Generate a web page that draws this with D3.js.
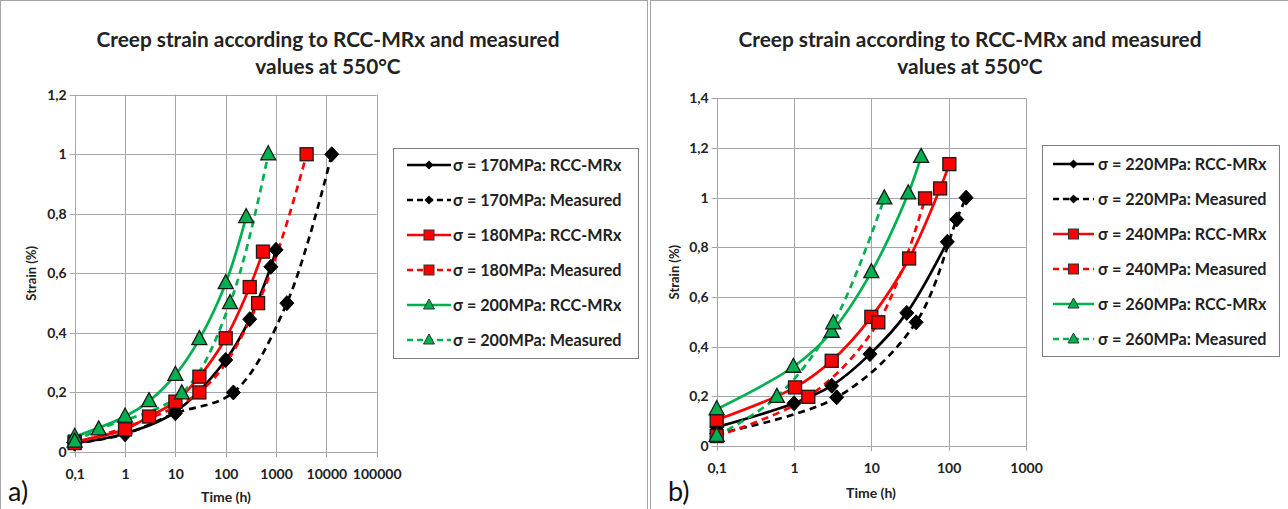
<!DOCTYPE html>
<html><head><meta charset="utf-8">
<script src="https://cdn.jsdelivr.net/npm/d3@7"></script>
<style>
body{margin:0;background:#fff;}
svg{display:block;font-family:Lato,"Open Sans",sans-serif;}
</style></head>
<body><svg id="c" width="1288" height="509"></svg>
<script>
// ---------- DATA (time in h, strain in %) ----------
const titleLines = ["Creep strain according to RCC-MRx and measured", "values at 550°C"];
const xTickValuesA = [0.1, 1, 10, 100, 1000, 10000, 100000];
const xTickLabelsA = ["0,1", "1", "10", "100", "1000", "10000", "100000"];
const yTickValuesA = [0, 0.2, 0.4, 0.6, 0.8, 1, 1.2];
const xTickValuesB = [0.1, 1, 10, 100, 1000];
const xTickLabelsB = ["0,1", "1", "10", "100", "1000"];
const yTickValuesB = [0, 0.2, 0.4, 0.6, 0.8, 1, 1.2, 1.4];

// Panel a)
const a170RccT = [0.1, 1, 10, 100, 300, 790, 1000];
const a170RccS = [0.03, 0.062, 0.135, 0.309, 0.446, 0.622, 0.679];
const a170MeasT = [0.1, 1, 10, 142, 1640, 12800];
const a170MeasS = [0.028, 0.06, 0.13, 0.2, 0.5, 1.0];
const a180RccT = [0.1, 1, 3, 10, 30, 100, 300, 550];
const a180RccS = [0.035, 0.076, 0.119, 0.169, 0.253, 0.382, 0.554, 0.673];
const a180MeasT = [0.1, 30, 440, 4050];
const a180MeasS = [0.03, 0.2, 0.5, 1.0];
const a200RccT = [0.1, 1, 3, 10, 30, 100, 255];
const a200RccS = [0.051, 0.119, 0.171, 0.259, 0.379, 0.567, 0.789];
const a200MeasT = [0.1, 0.3, 13.4, 122, 700];
const a200MeasS = [0.035, 0.076, 0.197, 0.5, 1.0];

// Panel b)
const b220RccT = [0.1, 1, 3.07, 9.6, 28.7, 96];
const b220RccS = [0.076, 0.172, 0.243, 0.37, 0.536, 0.822];
const b220MeasT = [0.1, 3.56, 37.9, 127, 168];
const b220MeasS = [0.05, 0.196, 0.498, 0.912, 1.0];
const b240RccT = [0.1, 1.03, 3.07, 10, 30.8, 77.5, 102];
const b240RccS = [0.105, 0.236, 0.343, 0.52, 0.755, 1.037, 1.135];
const b240MeasT = [0.1, 1.53, 12.3, 49.5];
const b240MeasS = [0.04, 0.198, 0.498, 0.997];
const b260RccT = [0.1, 0.98, 3.07, 10, 30, 44];
const b260RccS = [0.148, 0.319, 0.46, 0.7, 1.017, 1.164];
const b260MeasT = [0.1, 0.6, 3.22, 14.7];
const b260MeasS = [0.041, 0.198, 0.494, 0.997];

const seriesA = [
  {name:"σ = 170MPa: RCC-MRx", t:a170RccT, s:a170RccS, color:"#000000", dash:false, marker:"diamond"},
  {name:"σ = 170MPa: Measured", t:a170MeasT, s:a170MeasS, color:"#000000", dash:true, marker:"diamond"},
  {name:"σ = 180MPa: RCC-MRx", t:a180RccT, s:a180RccS, color:"#FF0000", dash:false, marker:"square"},
  {name:"σ = 180MPa: Measured", t:a180MeasT, s:a180MeasS, color:"#FF0000", dash:true, marker:"square"},
  {name:"σ = 200MPa: RCC-MRx", t:a200RccT, s:a200RccS, color:"#00B050", dash:false, marker:"triangle"},
  {name:"σ = 200MPa: Measured", t:a200MeasT, s:a200MeasS, color:"#00B050", dash:true, marker:"triangle"}
];
const seriesB = [
  {name:"σ = 220MPa: RCC-MRx", t:b220RccT, s:b220RccS, color:"#000000", dash:false, marker:"diamond"},
  {name:"σ = 220MPa: Measured", t:b220MeasT, s:b220MeasS, color:"#000000", dash:true, marker:"diamond"},
  {name:"σ = 240MPa: RCC-MRx", t:b240RccT, s:b240RccS, color:"#FF0000", dash:false, marker:"square"},
  {name:"σ = 240MPa: Measured", t:b240MeasT, s:b240MeasS, color:"#FF0000", dash:true, marker:"square"},
  {name:"σ = 260MPa: RCC-MRx", t:b260RccT, s:b260RccS, color:"#00B050", dash:false, marker:"triangle"},
  {name:"σ = 260MPa: Measured", t:b260MeasT, s:b260MeasS, color:"#00B050", dash:true, marker:"triangle"}
];

const svg = d3.select("#c");
const fmtY = d => d === 0 ? "0" : String(+d.toFixed(1)).replace(".", ",");

function drawMarker(g, type, x, y, fill) {
  if (type === "diamond") {
    g.append("path").attr("d", `M${x},${y-7.5}L${x+7},${y}L${x},${y+7.5}L${x-7},${y}Z`)
      .attr("fill", "#000").attr("stroke", "#000").attr("stroke-width", 1);
  } else if (type === "square") {
    g.append("rect").attr("x", x-6.5).attr("y", y-6.5).attr("width", 13).attr("height", 13)
      .attr("fill", fill).attr("stroke", "#1a1a1a").attr("stroke-width", 1.3);
  } else {
    g.append("path").attr("d", `M${x},${y-8.5}L${x+7.5},${y+5.5}L${x-7.5},${y+5.5}Z`)
      .attr("fill", fill).attr("stroke", "#1a1a1a").attr("stroke-width", 1.3);
  }
}
function legendMarker(g, type, x, y, fill) {
  if (type === "diamond") {
    g.append("path").attr("d", `M${x},${y-4.5}L${x+4.5},${y}L${x},${y+4.5}L${x-4.5},${y}Z`).attr("fill","#000");
  } else if (type === "square") {
    g.append("rect").attr("x", x-5).attr("y", y-5).attr("width", 10).attr("height", 10)
      .attr("fill", fill).attr("stroke", "#333").attr("stroke-width", 1);
  } else {
    g.append("path").attr("d", `M${x},${y-6}L${x+5.5},${y+4}L${x-5.5},${y+4}Z`)
      .attr("fill", fill).attr("stroke", "#333").attr("stroke-width", 1);
  }
}

function panel(cfg) {
  const g = svg.append("g");
  g.append("rect").attr("x", cfg.frame[0]).attr("y", cfg.frame[1]).attr("width", cfg.frame[2]).attr("height", cfg.frame[3])
    .attr("fill", "none").attr("stroke", "#a6a6a6").attr("stroke-width", 1);

  const x = d3.scaleLog().domain(cfg.xDomain).range(cfg.xRange);
  const y = d3.scaleLinear().domain(cfg.yDomain).range(cfg.yRange);

  g.append("g").selectAll("line").data(cfg.yTicks).join("line")
    .attr("x1", cfg.xRange[0]-5).attr("x2", cfg.xRange[1])
    .attr("y1", d => Math.round(y(d))+0.5).attr("y2", d => Math.round(y(d))+0.5)
    .attr("stroke", "#a6a6a6").attr("stroke-width", 1);
  g.append("g").selectAll("line").data(cfg.xTicks).join("line")
    .attr("x1", d => Math.round(x(d))+0.5).attr("x2", d => Math.round(x(d))+0.5)
    .attr("y1", cfg.yRange[1]).attr("y2", cfg.yRange[0]+5)
    .attr("stroke", "#a6a6a6").attr("stroke-width", 1);

  const yAxis = g.append("g").attr("transform", `translate(${cfg.xRange[0]},0)`)
    .call(d3.axisLeft(y).tickValues(cfg.yTicks).tickFormat(fmtY).tickSize(0).tickPadding(cfg.yPad));
  yAxis.select(".domain").remove();
  yAxis.selectAll("text").attr("font-family", "Lato, sans-serif").attr("font-weight", "bold")
    .attr("font-size", 14).attr("fill", "#222");
  const xAxis = g.append("g").attr("transform", `translate(0,${cfg.yRange[0]})`)
    .call(d3.axisBottom(x).tickValues(cfg.xTicks).tickFormat((d,i) => cfg.xLabels[i]).tickSize(0).tickPadding(cfg.xPad));
  xAxis.select(".domain").remove();
  xAxis.selectAll("text").attr("font-family", "Lato, sans-serif").attr("font-weight", "bold")
    .attr("font-size", 14).attr("fill", "#222");

  const line = d3.line().x(d => x(d[0])).y(d => y(d[1])).curve(d3.curveCatmullRom.alpha(0.5));
  cfg.series.forEach(s => {
    const pts = s.t.map((t, i) => [t, s.s[i]]);
    g.append("path").attr("d", line(pts)).attr("fill", "none").attr("stroke", s.color)
      .attr("stroke-width", 2.7).attr("stroke-dasharray", s.dash ? "7,5" : null);
  });
  cfg.series.forEach(s => {
    const mg = g.append("g");
    s.t.forEach((t, i) => drawMarker(mg, s.marker, x(t), y(s.s[i]), s.color));
  });

  titleLines.forEach((tl, i) => g.append("text").attr("x", cfg.titleX).attr("y", 47 + i*27)
    .attr("text-anchor", "middle").attr("font-size", 20.8).attr("font-weight", "bold").attr("fill", "#222").text(tl));
  g.append("text").attr("transform", `translate(${cfg.yLabelX},${(cfg.yRange[0]+cfg.yRange[1])/2}) rotate(-90)`)
    .attr("text-anchor", "middle").attr("font-size", 13).attr("font-weight", "bold").attr("fill", "#222").text("Strain (%)");
  g.append("text").attr("x", cfg.xLabelX).attr("y", cfg.xLabelY).attr("text-anchor", "middle")
    .attr("font-size", 14).attr("font-weight", "bold").attr("fill", "#222").text("Time (h)");
  g.append("text").attr("x", cfg.letterX).attr("y", 501).attr("font-size", 27).attr("fill", "#111").text(cfg.letter);

  const L = cfg.legend;
  g.append("rect").attr("x", L.x).attr("y", L.y).attr("width", L.w).attr("height", L.h)
    .attr("fill", "#fff").attr("stroke", "#7f7f7f").attr("stroke-width", 1);
  cfg.series.forEach((s, i) => {
    const yy = L.y0 + i * 35;
    g.append("line").attr("x1", L.lx0).attr("x2", L.lx1).attr("y1", yy).attr("y2", yy)
      .attr("stroke", s.color).attr("stroke-width", 2.6).attr("stroke-dasharray", s.dash ? "6,4" : null);
    legendMarker(g, s.marker, (L.lx0 + L.lx1) / 2, yy, s.color);
    g.append("text").attr("x", L.tx).attr("y", yy + 5.5).attr("font-size", 16.2).attr("font-weight", "bold")
      .attr("fill", "#222").text(s.name);
  });
}

panel({
  frame:[0.5, 0.5, 647, 520], xDomain:[0.1, 100000], xRange:[74.7, 376.7], yDomain:[0, 1.2], yRange:[452, 94.7],
  xTicks:xTickValuesA, xLabels:xTickLabelsA, yTicks:yTickValuesA, series:seriesA, yPad:8, xPad:17,
  titleX:328, yLabelX:36, xLabelX:226, xLabelY:502, letter:"a)", letterX:8,
  legend:{x:393.5, y:148.5, w:245, h:210, y0:165, lx0:407, lx1:451, tx:453}
});
panel({
  frame:[650.5, 0.5, 640, 520], xDomain:[0.1, 1000], xRange:[716.7, 1026], yDomain:[0, 1.4], yRange:[446, 98.3],
  xTicks:xTickValuesB, xLabels:xTickLabelsB, yTicks:yTickValuesB, series:seriesB, yPad:8, xPad:17,
  titleX:970, yLabelX:679, xLabelX:871, xLabelY:498, letter:"b)", letterX:668,
  legend:{x:1042.5, y:145.5, w:237, h:211, y0:164, lx0:1053, lx1:1094, tx:1098}
});
</script></body></html>
